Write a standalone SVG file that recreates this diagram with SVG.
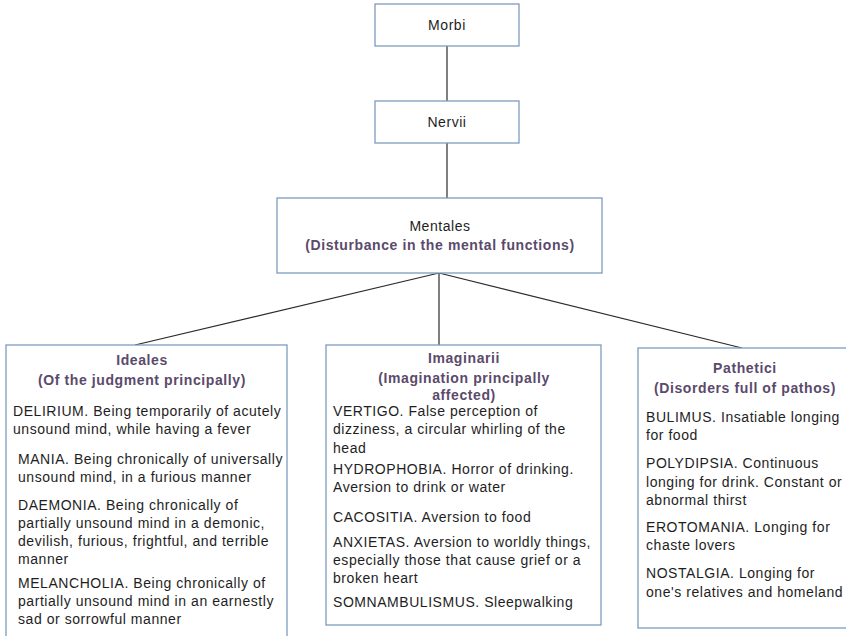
<svg xmlns="http://www.w3.org/2000/svg" width="846" height="636" viewBox="0 0 846 636">
  <style>
    .box { fill: #ffffff; stroke: #7d9bbd; stroke-width: 1.3; }
    .link { stroke: #2a2a2a; stroke-width: 1.2; fill: none; }
    .title { font-family: "Liberation Sans", Arial, sans-serif; font-size: 14px; letter-spacing: 0.55px; fill: #1e1e1e; text-anchor: middle; }
    .head { font-family: "Liberation Sans", Arial, sans-serif; font-size: 14px; letter-spacing: 0.6px; font-weight: bold; fill: #5b4a6b; text-anchor: middle; }
    .body { font-family: "Liberation Sans", Arial, sans-serif; font-size: 14px; letter-spacing: 0.55px; fill: #1e1e1e; }
  </style>
  <rect width="846" height="636" fill="#ffffff"/>

  <g id="connectors">
    <line class="link" x1="447" y1="46" x2="447" y2="101"/>
    <line class="link" x1="447" y1="143" x2="447" y2="198"/>
    <line class="link" x1="439" y1="273" x2="135" y2="345"/>
    <line class="link" x1="439" y1="273" x2="439" y2="345" stroke="#888888"/>
    <line class="link" x1="439" y1="273" x2="742" y2="348"/>
  </g>

  <g id="morbi">
    <rect class="box" x="375" y="4" width="144" height="42"/>
    <text class="title" x="447" y="30">Morbi</text>
  </g>

  <g id="nervii">
    <rect class="box" x="375" y="101" width="144" height="42"/>
    <text class="title" x="447" y="127">Nervii</text>
  </g>

  <g id="mentales">
    <rect class="box" x="277" y="198" width="325" height="75"/>
    <text class="title" x="440" y="231">Mentales</text>
    <text class="head" x="440" y="250">(Disturbance in the mental functions)</text>
  </g>

  <g id="ideales">
    <rect class="box" x="6" y="345" width="281" height="300"/>
    <text class="head" x="142" y="365">Ideales</text>
    <text class="head" x="142" y="385">(Of the judgment principally)</text>
    <text class="body" x="13" y="416">DELIRIUM. Being temporarily of acutely</text>
    <text class="body" x="13" y="434">unsound mind, while having a fever</text>
    <text class="body" x="18" y="464">MANIA. Being chronically of universally</text>
    <text class="body" x="18" y="482">unsound mind, in a furious manner</text>
    <text class="body" x="18" y="510">DAEMONIA. Being chronically of</text>
    <text class="body" x="18" y="528">partially unsound mind in a demonic,</text>
    <text class="body" x="18" y="546">devilish, furious, frightful, and terrible</text>
    <text class="body" x="18" y="564">manner</text>
    <text class="body" x="18" y="588">MELANCHOLIA. Being chronically of</text>
    <text class="body" x="18" y="606">partially unsound mind in an earnestly</text>
    <text class="body" x="18" y="624">sad or sorrowful manner</text>
  </g>

  <g id="imaginarii">
    <rect class="box" x="326" y="345" width="275" height="280"/>
    <text class="head" x="464" y="363">Imaginarii</text>
    <text class="head" x="464" y="383">(Imagination principally</text>
    <text class="head" x="464" y="400">affected)</text>
    <text class="body" x="333" y="416">VERTIGO. False perception of</text>
    <text class="body" x="333" y="434">dizziness, a circular whirling of the</text>
    <text class="body" x="333" y="453">head</text>
    <text class="body" x="333" y="474">HYDROPHOBIA. Horror of drinking.</text>
    <text class="body" x="333" y="492">Aversion to drink or water</text>
    <text class="body" x="333" y="522">CACOSITIA. Aversion to food</text>
    <text class="body" x="333" y="547">ANXIETAS. Aversion to worldly things,</text>
    <text class="body" x="333" y="565">especially those that cause grief or a</text>
    <text class="body" x="333" y="583">broken heart</text>
    <text class="body" x="333" y="607">SOMNAMBULISMUS. Sleepwalking</text>
  </g>

  <g id="pathetici">
    <rect class="box" x="638" y="348" width="215" height="280"/>
    <text class="head" x="745" y="373">Pathetici</text>
    <text class="head" x="745" y="393">(Disorders full of pathos)</text>
    <text class="body" x="646" y="422">BULIMUS. Insatiable longing</text>
    <text class="body" x="646" y="440">for food</text>
    <text class="body" x="646" y="468">POLYDIPSIA. Continuous</text>
    <text class="body" x="646" y="487">longing for drink. Constant or</text>
    <text class="body" x="646" y="505">abnormal thirst</text>
    <text class="body" x="646" y="532">EROTOMANIA. Longing for</text>
    <text class="body" x="646" y="550">chaste lovers</text>
    <text class="body" x="646" y="578">NOSTALGIA. Longing for</text>
    <text class="body" x="646" y="597">one's relatives and homeland</text>
  </g>
</svg>
